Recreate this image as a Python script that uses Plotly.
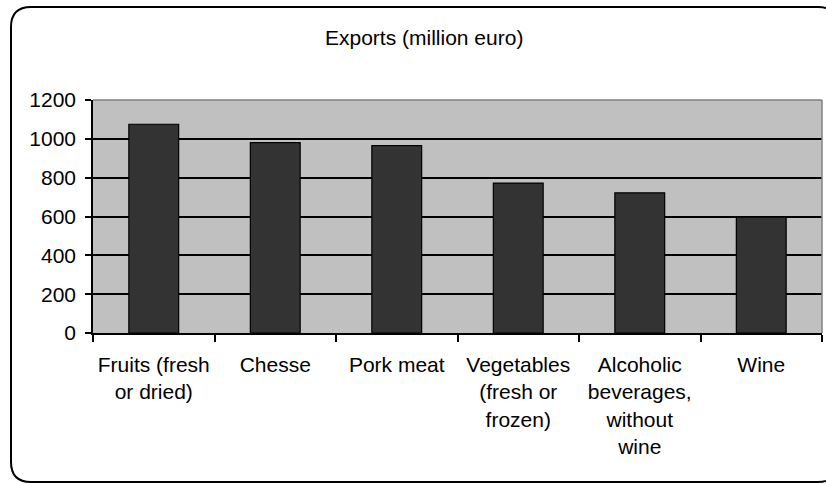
import plotly.graph_objects as go

# Exports by product group, million euro
categories = [
    "Fruits (fresh<br>or dried)",
    "Chesse",
    "Pork meat",
    "Vegetables<br>(fresh or<br>frozen)",
    "Alcoholic<br>beverages,<br>without<br>wine",
    "Wine",
]
exports = [1075, 980, 965, 772, 722, 597]
y_ticks = [0, 200, 400, 600, 800, 1000, 1200]

W, H = 826, 484
L, R, T, B = 93, 4, 100, 151
pw, ph = W - L - R, H - T - B

FONT = "Arial, Liberation Sans, sans-serif"


def px_to_paper(x, y):
    return (x - L) / pw, (H - B - y) / ph


def frame_path(x0, y0, x1, y1, r):
    # rounded frame; its right-hand side lies past the page edge
    def P(x, y):
        px, py = px_to_paper(x, y)
        return f"{px:.5f},{py:.5f}"
    return (
        f"M {P(x1, y0 + r)} Q {P(x1, y0)} {P(x1 - r, y0)} "
        f"L {P(x0 + r, y0)} Q {P(x0, y0)} {P(x0, y0 + r)} "
        f"L {P(x0, y1 - r)} Q {P(x0, y1)} {P(x0 + r, y1)} "
        f"L {P(x1 - r, y1)} Q {P(x1, y1)} {P(x1, y1 - r)}"
    )


fig = go.Figure(
    go.Bar(
        x=categories,
        y=exports,
        marker=dict(color="#333333", line=dict(color="#000000", width=1.2)),
    )
)

fig.update_layout(
    width=W,
    height=H,
    margin=dict(l=L, r=R, t=T, b=B),
    paper_bgcolor="white",
    plot_bgcolor="#C0C0C0",
    bargap=0.59,
    showlegend=False,
    font=dict(family=FONT, color="black"),
    annotations=[
        dict(
            text="Exports (million euro)",
            xref="paper", yref="paper",
            x=px_to_paper(424, 0)[0], y=px_to_paper(0, 37)[1],
            xanchor="center", yanchor="middle",
            showarrow=False,
            font=dict(size=21, family=FONT, color="black"),
        )
    ],
    shapes=[
        # chart frame
        dict(type="path", xref="paper", yref="paper",
             path=frame_path(11, 7, 838, 482, 20),
             line=dict(color="black", width=2), layer="below"),
        # plot area top and right edges
        dict(type="line", xref="paper", yref="paper", x0=0, x1=1, y0=1, y1=1,
             line=dict(color="#808080", width=1.5), layer="above"),
        dict(type="line", xref="paper", yref="paper", x0=1, x1=1, y0=0, y1=1,
             line=dict(color="#808080", width=1.5), layer="above"),
    ],
)

fig.update_xaxes(
    type="category",
    showline=True, linecolor="black", linewidth=1.5,
    ticks="outside", tickson="boundaries", ticklen=7, tickwidth=1.5, tickcolor="black",
    showgrid=False,
    tickfont=dict(size=21, family=FONT, color="black"),
    ticklabelstandoff=12,
    tickangle=0,
)

fig.update_yaxes(
    range=[0, 1200],
    tickvals=y_ticks,
    showline=True, linecolor="black", linewidth=1.5,
    ticks="outside", ticklen=6, tickwidth=1.5, tickcolor="black",
    showgrid=True, gridcolor="black", gridwidth=1.5,
    zeroline=False,
    tickfont=dict(size=21, family=FONT, color="black"),
    ticklabelstandoff=5,
)

fig.write_html("out.html")
